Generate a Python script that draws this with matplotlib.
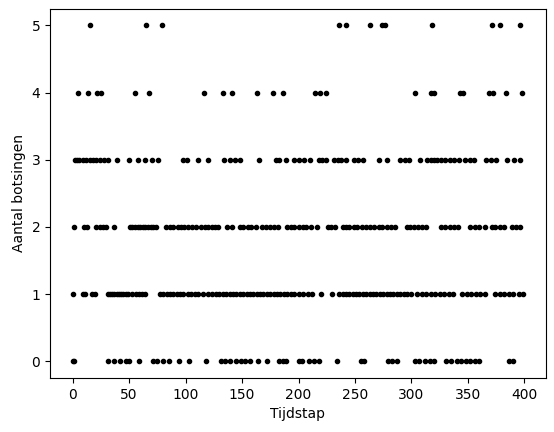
import matplotlib
matplotlib.use("Agg")
import matplotlib.pyplot as plt

# tijdstappen per aantal botsingen
t_vijf = [15, 65, 79, 236, 242, 263, 274, 277, 318, 371, 378, 396]
t_vier = [5, 14, 22, 25, 55, 68, 116, 133, 141, 163, 177, 186, 215, 219, 224,
          303, 317, 320, 343, 346, 369, 372, 384, 398]
t_drie = [2, 4, 6, 9, 12, 15, 18, 21, 24, 28, 31, 39, 50, 58, 64, 70, 76, 98,
          101, 111, 120, 134, 139, 144, 148, 165, 180, 183, 189, 196, 200, 205,
          210, 218, 221, 224, 231, 235, 238, 242, 249, 253, 257, 271, 278, 290,
          294, 298, 308, 314, 317, 320, 323, 326, 330, 334, 338, 342, 347, 352,
          355, 366, 370, 375, 385, 391, 396]
t_twee = [1, 10, 13, 21, 24, 27, 30, 37, 51, 53, 55, 58, 60, 62, 64, 67, 69, 71,
          74, 83, 86, 89, 93, 96, 99, 102, 106, 109, 114, 117, 120, 123, 126,
          129, 137, 141, 148, 151, 155, 158, 162, 168, 171, 175, 178, 182, 190,
          193, 196, 200, 204, 207, 211, 216, 226, 229, 232, 239, 242, 245, 249,
          252, 256, 260, 263, 267, 271, 274, 278, 282, 285, 296, 299, 302, 306,
          309, 313, 326, 330, 334, 338, 341, 352, 356, 360, 365, 371, 374, 378,
          382, 389, 393, 396]
t_een = [0, 9, 11, 17, 20, 31, 33, 35, 37, 39, 41, 43, 45, 47, 49, 53, 56, 59,
         61, 64, 77, 80, 84, 86, 89, 92, 95, 98, 102, 105, 108, 111, 115, 120,
         123, 127, 130, 133, 136, 139, 142, 145, 148, 151, 154, 157, 160, 163,
         166, 169, 172, 175, 178, 181, 184, 187, 190, 193, 196, 200, 204, 208,
         212, 220, 230, 236, 239, 242, 245, 248, 251, 254, 257, 260, 263, 266,
         269, 272, 275, 278, 281, 284, 287, 290, 293, 296, 300, 305, 309, 313,
         317, 321, 325, 329, 333, 337, 345, 349, 353, 357, 361, 365, 374, 378,
         382, 386, 390, 395, 399]
t_nul = [0, 1, 31, 37, 42, 47, 50, 59, 71, 75, 80, 85, 94, 103, 118, 131, 135,
         139, 145, 149, 153, 157, 164, 172, 183, 186, 189, 200, 203, 209, 214,
         218, 234, 255, 258, 279, 283, 287, 303, 307, 312, 316, 320, 331, 335,
         340, 344, 348, 352, 356, 360, 386, 390]

reeksen = [(0, t_nul), (1, t_een), (2, t_twee), (3, t_drie), (4, t_vier), (5, t_vijf)]

tijd = []
botsingen = []
for aantal, stappen in reeksen:
    tijd += stappen
    botsingen += [aantal] * len(stappen)

fig = plt.figure(figsize=(5.54, 4.32), dpi=100)
ax = fig.add_axes([0.0903, 0.125, 0.895, 0.855])
ax.plot(tijd, botsingen, 'k.', linestyle='none')
ax.set_xlim(-20, 419)
ax.set_ylim(-0.25, 5.25)
ax.set_xlabel('Tijdstap')
ax.set_ylabel('Aantal botsingen')

fig.savefig('out.png', dpi=100)
